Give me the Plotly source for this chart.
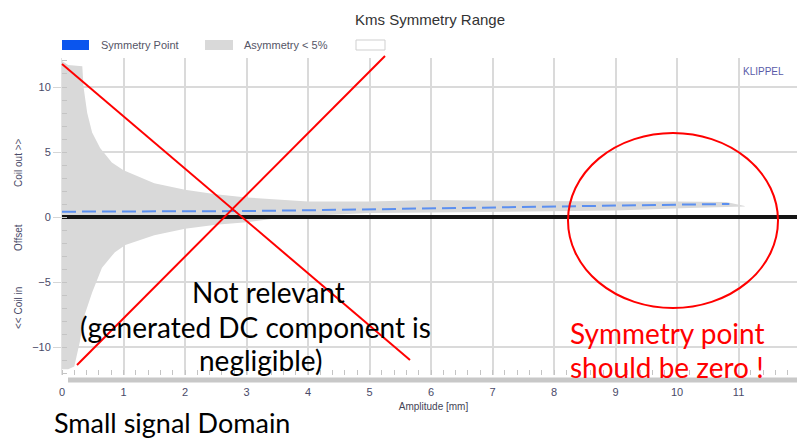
import plotly.graph_objects as go

# ---- data ----
band_upper_x = [0, 0.1, 0.33, 0.35, 0.41, 0.49, 0.62, 0.81, 1.0, 1.5, 2.0, 2.5, 3.0, 3.5, 4.0, 5.0, 6.0, 7.0, 8.0, 9.0, 10.0, 10.8, 11.1]
band_upper_y = [12.0, 11.7, 11.6, 10.0, 8.0, 6.5, 5.3, 4.2, 3.6, 2.6, 2.1, 1.75, 1.5, 1.35, 1.2, 1.2, 1.3, 1.25, 1.2, 1.2, 1.2, 1.15, 0.85]
band_lower_x = [0, 0.1, 0.2, 0.29, 0.37, 0.49, 0.65, 0.86, 1.03, 1.5, 2.0, 2.5, 3.0, 3.5, 4.0, 5.0, 6.0, 7.0, 8.0, 9.0, 10.2, 10.8, 11.1]
band_lower_y = [-11.7, -11.7, -11.5, -9.6, -7.5, -5.8, -3.9, -2.7, -2.15, -1.4, -0.9, -0.6, -0.4, -0.1, 0.1, 0.3, 0.35, 0.4, 0.45, 0.5, 0.7, 0.75, 0.8]
sym_x = [0, 1, 2, 3, 4, 5, 6, 7, 8, 9, 10, 10.85]
sym_y = [0.41, 0.42, 0.43, 0.46, 0.52, 0.6, 0.65, 0.72, 0.8, 0.88, 0.95, 1.0]
offset_x = [0, 12.1]
offset_y = [0, 0]
x_ticks = list(range(0, 13))
y_ticks = [-10, -5, 0, 5, 10]

FONT = "Liberation Sans"
TICKC = "#4a4a68"

fig = go.Figure()
fig.add_trace(go.Scatter(x=band_lower_x, y=band_lower_y, mode="lines",
                         line=dict(width=0, color="#d9d9d9"), showlegend=False, hoverinfo="skip"))
fig.add_trace(go.Scatter(x=band_upper_x, y=band_upper_y, mode="lines", fill="tonexty",
                         fillcolor="#d9d9d9", line=dict(width=0, color="#d9d9d9"),
                         name="Asymmetry < 5%", showlegend=False))
fig.add_trace(go.Scatter(x=offset_x, y=offset_y, mode="lines",
                         line=dict(width=4, color="#151515"), showlegend=False, hoverinfo="skip"))
fig.add_trace(go.Scatter(x=sym_x, y=sym_y, mode="lines",
                         line=dict(width=2, color="#5b8ff0", dash="14px,6px"),
                         name="Symmetry Point", showlegend=False))

# page has an 8px body margin: figure pixel = reference pixel - 8
OFF = 8
W, H = 797, 433
L, R, T, B = 54, 0, 50, 66
PW, PH = W - L - R, H - T - B

def px(x):
    return (x - OFF - L) / PW

def py(y):
    return (H - B - (y - OFF)) / PH

shapes = []
annotations = []

# legend (manual, rectangles as in the reference)
shapes.append(dict(type="rect", xref="paper", yref="paper", x0=px(62), x1=px(89), y0=py(50), y1=py(40),
                   fillcolor="#0a55ee", line=dict(width=0)))
shapes.append(dict(type="rect", xref="paper", yref="paper", x0=px(205), x1=px(233), y0=py(50), y1=py(40),
                   fillcolor="#d9d9d9", line=dict(width=0)))
shapes.append(dict(type="rect", xref="paper", yref="paper", x0=px(356), x1=px(385), y0=py(50), y1=py(40),
                   fillcolor="white", line=dict(width=1, color="#cfcfcf")))
annotations.append(dict(text="Symmetry Point", xref="paper", yref="paper", x=px(99), y=py(45),
                        xanchor="left", yanchor="middle", showarrow=False,
                        font=dict(family=FONT, size=11, color="#555566")))
annotations.append(dict(text="Asymmetry < 5%", xref="paper", yref="paper", x=px(242), y=py(45),
                        xanchor="left", yanchor="middle", showarrow=False,
                        font=dict(family=FONT, size=11, color="#555566")))

# scrollbar-like strip below the axis
shapes.append(dict(type="line", xref="paper", yref="paper", x0=px(68), x1=px(800), y0=py(380), y1=py(380),
                   line=dict(width=5, color="#c8c8c8")))

# red cross and circle
shapes.append(dict(type="line", xref="paper", yref="paper", x0=px(62), y0=py(64), x1=px(410), y1=py(360),
                   line=dict(width=2, color="#ff0000")))
shapes.append(dict(type="line", xref="paper", yref="paper", x0=px(385), y0=py(56), x1=px(77), y1=py(365),
                   line=dict(width=2, color="#ff0000")))
shapes.append(dict(type="circle", xref="paper", yref="paper", x0=px(568), x1=px(778), y0=py(308), y1=py(133),
                   line=dict(width=2, color="#ff0000")))

# y-axis title parts
for txt, yy in [("Coil out >>", 163), ("Offset", 238), ("<< Coil in", 308)]:
    annotations.append(dict(text=txt, xref="paper", yref="paper", x=px(18), y=py(yy), textangle=-90,
                            xanchor="center", yanchor="middle", showarrow=False,
                            font=dict(family=FONT, size=10, color=TICKC)))

annotations.append(dict(text="KLIPPEL", xref="paper", yref="paper", x=px(763), y=py(72),
                        xanchor="center", yanchor="middle", showarrow=False,
                        font=dict(family=FONT, size=10, color="#5a5aa8")))

BIG = "Lato"
BIGS = 28
for txt, xx, yy in [("Not relevant", 268, 292), ("(generated DC component is", 255, 327), ("negligible)", 260, 360)]:
    annotations.append(dict(text=txt, xref="paper", yref="paper", x=px(xx), y=py(yy),
                            xanchor="center", yanchor="middle", showarrow=False,
                            font=dict(family=BIG, size=BIGS, color="black")))
for txt, yy in [("Symmetry point", 333), ("should be zero !", 367)]:
    annotations.append(dict(text=txt, xref="paper", yref="paper", x=px(667), y=py(yy),
                            xanchor="center", yanchor="middle", showarrow=False,
                            font=dict(family=BIG, size=BIGS, color="#ff0000")))
annotations.append(dict(text="Small signal Domain", xref="paper", yref="paper", x=px(172), y=py(422),
                        xanchor="center", yanchor="middle", showarrow=False,
                        font=dict(family=BIG, size=BIGS - 1, color="black")))

fig.update_layout(
    width=W, height=H,
    margin=dict(l=L, r=R, t=T, b=B),
    paper_bgcolor="white", plot_bgcolor="white",
    showlegend=False,
    title=dict(text="Kms Symmetry Range", x=(430 - OFF) / W, xanchor="center", y=1 - (20 - OFF) / H,
               yanchor="middle", font=dict(family=FONT, size=15, color="#333333")),
    shapes=shapes, annotations=annotations,
    xaxis=dict(range=[0, 12.08], tickvals=x_ticks, showgrid=True, gridcolor="#dadada", gridwidth=1.5,
               zeroline=False, showline=False, ticks="", ticklabelstandoff=9,
               tickfont=dict(family=FONT, size=11, color=TICKC),
               minor=dict(ticks="inside", ticklen=5, dtick=0.2, tickcolor="#c4c4c4", showgrid=False),
               title=dict(text="Amplitude [mm]", standoff=5, font=dict(family=FONT, size=10, color="#444455"))),
    yaxis=dict(range=[-12.15, 12.23], tickvals=y_ticks, showgrid=True, gridcolor="#dadada", gridwidth=1.5,
               zeroline=False, showline=True, mirror=True, linecolor="#e2e2e2", linewidth=1,
               ticks="outside", ticklen=8, tickcolor="#d6d6d6",
               tickfont=dict(family=FONT, size=11, color=TICKC),
               minor=dict(ticks="inside", ticklen=5, dtick=1, tickcolor="#c4c4c4", showgrid=False)),
)

fig.write_html("out.html")
